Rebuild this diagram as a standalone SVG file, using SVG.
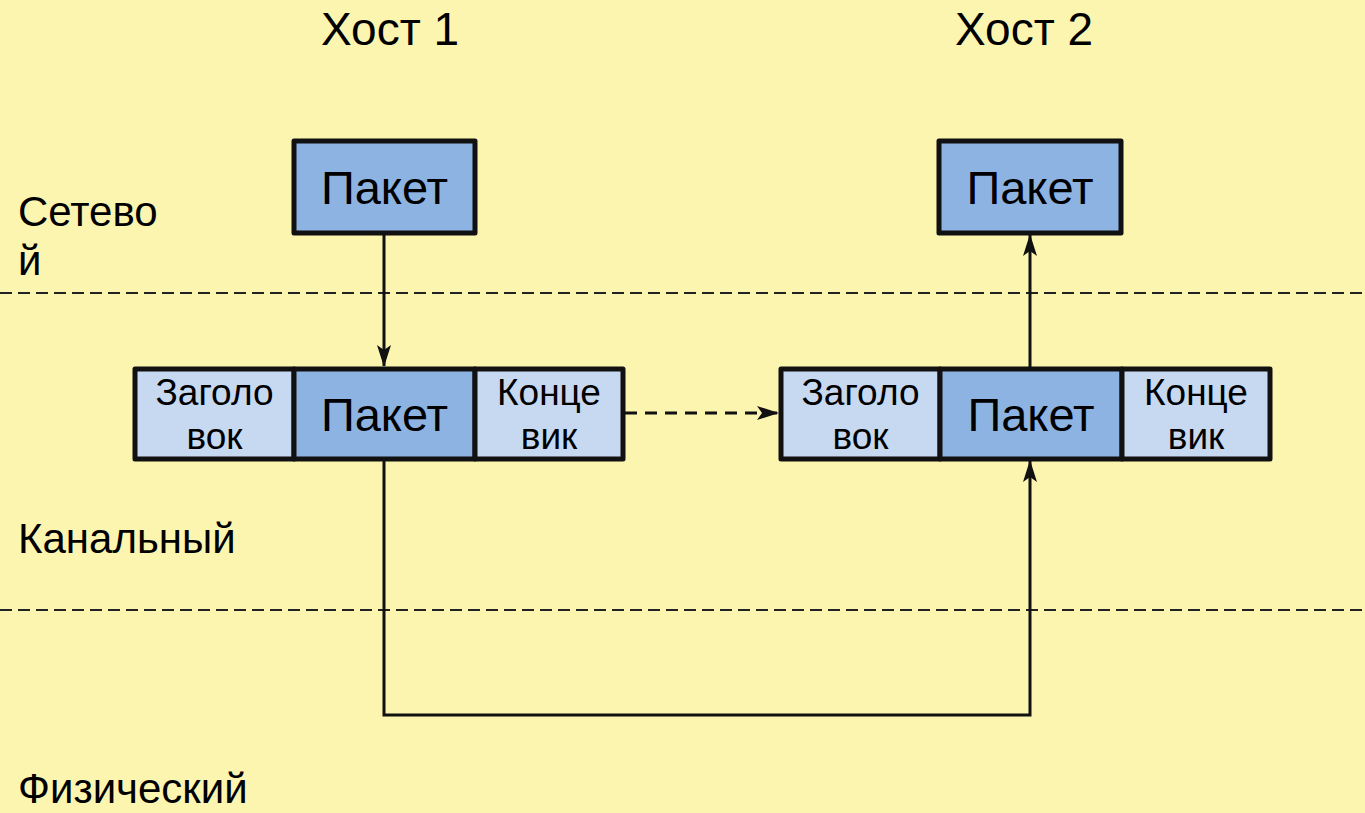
<svg xmlns="http://www.w3.org/2000/svg" width="1365" height="813" viewBox="0 0 1365 813">
<defs>
<style>
.t{font-family:"Liberation Sans",Arial,sans-serif;fill:#000}
.box{stroke:#111;stroke-width:5;stroke-linejoin:round}
.dark{fill:#8DB3E2}
.light{fill:#C6D9F1}
.sep{stroke:#222;stroke-width:2;stroke-dasharray:12 6;fill:none}
.con{stroke:#111;stroke-width:3;fill:none}
</style>
<marker id="ah" viewBox="0 0 22 14" refX="21" refY="7" markerWidth="22" markerHeight="14" markerUnits="userSpaceOnUse" orient="auto">
<path d="M0,0 L22,7 L0,14 L5,7 z" fill="#111"/>
</marker>
</defs>
<rect width="1365" height="813" fill="#FCF5B0"/>
<g id="layers">
<line class="sep" x1="0" y1="293" x2="1365" y2="293"/>
<line class="sep" x1="0" y1="610" x2="1365" y2="610"/>
<text class="t" x="18" y="226" font-size="42">Сетево</text>
<text class="t" x="18" y="275" font-size="42">й</text>
<text class="t" x="18" y="553" font-size="42">Канальный</text>
<text class="t" x="18" y="803" font-size="42">Физический</text>
<text class="t" x="390" y="45" font-size="46" text-anchor="middle">Хост 1</text>
<text class="t" x="1024" y="45" font-size="46" text-anchor="middle">Хост 2</text>
</g>
<g id="connectors">
<line class="con" x1="384" y1="234" x2="384" y2="366" marker-end="url(#ah)"/>
<line class="con" x1="625" y1="413" x2="778" y2="413" stroke-dasharray="12 8" marker-end="url(#ah)"/>
<line class="con" x1="1030" y1="368" x2="1030" y2="235" marker-end="url(#ah)"/>
<polyline class="con" points="384,460 384,715 1030,715 1030,461" marker-end="url(#ah)"/>
</g>
<g id="packet1">
<rect class="box dark" x="294" y="141" width="181" height="92"/>
<text class="t" x="384.5" y="204" font-size="47" text-anchor="middle">Пакет</text>
</g>
<g id="packet2">
<rect class="box dark" x="939" y="141" width="182" height="92"/>
<text class="t" x="1030" y="204" font-size="47" text-anchor="middle">Пакет</text>
</g>
<g id="frame1">
<rect class="box light" x="135" y="369" width="159" height="90"/>
<rect class="box dark" x="294" y="369" width="181" height="90"/>
<rect class="box light" x="475" y="369" width="148" height="90"/>
<text class="t" x="214.5" y="405" font-size="37" text-anchor="middle">Заголо</text>
<text class="t" x="214.5" y="449" font-size="37" text-anchor="middle">вок</text>
<text class="t" x="384.5" y="431" font-size="47" text-anchor="middle">Пакет</text>
<text class="t" x="549" y="405" font-size="37" text-anchor="middle">Конце</text>
<text class="t" x="549" y="449" font-size="37" text-anchor="middle">вик</text>
</g>
<g id="frame2">
<rect class="box light" x="781" y="369" width="159" height="90"/>
<rect class="box dark" x="940" y="369" width="182" height="90"/>
<rect class="box light" x="1122" y="369" width="148" height="90"/>
<text class="t" x="860.5" y="405" font-size="37" text-anchor="middle">Заголо</text>
<text class="t" x="860.5" y="449" font-size="37" text-anchor="middle">вок</text>
<text class="t" x="1031" y="431" font-size="47" text-anchor="middle">Пакет</text>
<text class="t" x="1196" y="405" font-size="37" text-anchor="middle">Конце</text>
<text class="t" x="1196" y="449" font-size="37" text-anchor="middle">вик</text>
</g>
</svg>
